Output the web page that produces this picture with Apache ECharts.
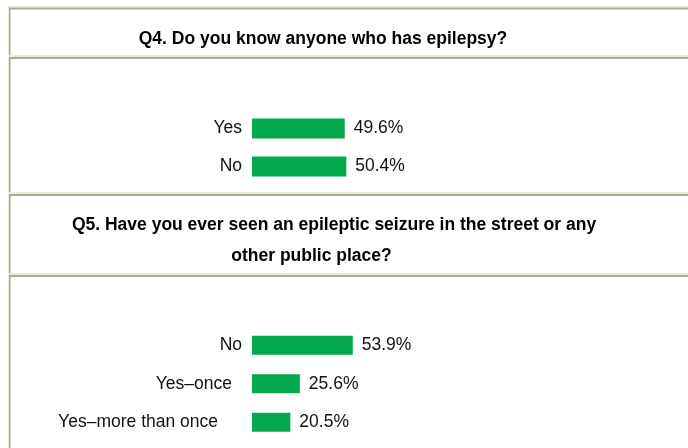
<!DOCTYPE html>
<html>
<head>
<meta charset="utf-8">
<script src="https://cdn.jsdelivr.net/npm/echarts@6/dist/echarts.min.js"></script>
<style>
html,body{margin:0;padding:0;background:#fff;}
#chart{width:688px;height:448px;}
</style>
</head>
<body>
<div id="chart"></div>
<script>
// ---- data ----
const q4Title = 'Q4. Do you know anyone who has epilepsy?';
const q4Categories = ['Yes', 'No'];
const q4Values = [49.6, 50.4];

const q5TitleLine1 = 'Q5. Have you ever seen an epileptic seizure in the street or any';
const q5TitleLine2 = 'other public place?';
const q5Categories = ['No', 'Yes–once', 'Yes–more than once'];
const q5Values = [53.9, 25.6, 20.5];

// ---- styling ----
const FONT = '"Liberation Sans", Arial, sans-serif';
const GREEN = '#04a84e';
const LIGHT = '#ece9d8';
const DARK = '#aca899';
const FS = 17.5;
const labelPad = {'Yes–once': 10, 'Yes–more than once': 24};

const chart = echarts.init(document.getElementById('chart'), null, {renderer: 'canvas'});

function catAxis(gridIndex, cats) {
  return {
    type: 'category', gridIndex: gridIndex, data: cats, inverse: true,
    axisLine: {show: false}, axisTick: {show: false}, splitLine: {show: false},
    axisLabel: {
      margin: 10, color: '#111', fontFamily: FONT, fontSize: FS,
      formatter: function (v) {
        const p = labelPad[v];
        return p ? '{p' + p + '|' + v + '}' : v;
      },
      rich: {
        p10: {padding: [0, 10, 0, 0], fontSize: FS, fontFamily: FONT, color: '#111'},
        p24: {padding: [0, 24, 0, 0], fontSize: FS, fontFamily: FONT, color: '#111'}
      }
    }
  };
}
function valAxis(gridIndex) {
  return {type: 'value', gridIndex: gridIndex, min: 0, max: 100, show: false};
}
function barSeries(idx, values, width) {
  return {
    type: 'bar', xAxisIndex: idx, yAxisIndex: idx, data: values, barWidth: width,
    itemStyle: {color: GREEN}, silent: true, animation: false,
    label: {
      show: true, position: 'right', distance: 9, color: '#111',
      fontFamily: FONT, fontSize: FS, formatter: '{c}%'
    }
  };
}

// table borders
const W = 688, H = 448;
const borders = [];
function hline(y, h, color, x0) { borders.push({type: 'rect', shape: {x: x0, y: y, width: W - x0, height: h}, style: {fill: color}, silent: true}); }
function vline(x, y0, y1, w, color) { borders.push({type: 'rect', shape: {x: x, y: y0, width: w, height: y1 - y0}, style: {fill: color}, silent: true}); }
// top
hline(6, 1.5, LIGHT, 8); hline(7.5, 2, DARK, 9);
// separators
const seps = [[55, 57], [192, 194], [273, 275]];
seps.forEach(function (s) { hline(s[0], 2, LIGHT, 8); hline(s[1], 2, DARK, 9); });
// left light line
vline(8, 6, H, 1, LIGHT);
// left dark segments
vline(9, 7.5, 55, 1.5, DARK);
vline(9, 57, 192, 1.5, DARK);
vline(9, 194, 273, 1.5, DARK);
vline(9, 275, H, 1.5, DARK);

const titles = [
  {type: 'text', x: 323, y: 39, style: {text: q4Title, font: 'bold 17.5px ' + FONT, fill: '#000', textAlign: 'center', textVerticalAlign: 'middle'}, silent: true},
  {type: 'text', x: 334, y: 225, style: {text: q5TitleLine1, font: 'bold 17.5px ' + FONT, fill: '#000', textAlign: 'center', textVerticalAlign: 'middle'}, silent: true},
  {type: 'text', x: 311.5, y: 256.5, style: {text: q5TitleLine2, font: 'bold 17.5px ' + FONT, fill: '#000', textAlign: 'center', textVerticalAlign: 'middle'}, silent: true}
];

chart.setOption({
  backgroundColor: '#ffffff',
  animation: false,
  grid: [
    {left: 252, width: 187, top: 109.5, height: 76},
    {left: 252, width: 187, top: 326, height: 115.5}
  ],
  xAxis: [valAxis(0), valAxis(1)],
  yAxis: [catAxis(0, q4Categories), catAxis(1, q5Categories)],
  series: [barSeries(0, q4Values, 20), barSeries(1, q5Values, 19)],
  graphic: borders.concat(titles)
});
</script>
</body>
</html>
